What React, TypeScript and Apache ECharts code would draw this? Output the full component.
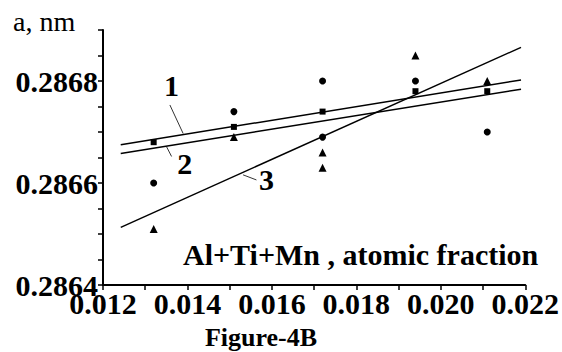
import React, { useEffect, useRef } from "react";
import * as echarts from "echarts";

// Measured points (x: Al+Ti+Mn atomic fraction, y: a, nm)
const circleData: number[][] = [
  [0.0132, 0.2866], [0.0151, 0.28674], [0.0172, 0.2868], [0.0172, 0.28669],
  [0.0194, 0.2868], [0.0211, 0.2867],
];
const squareData: number[][] = [
  [0.0132, 0.28668], [0.0151, 0.28671], [0.0172, 0.28674], [0.0194, 0.28678], [0.0211, 0.28678],
];
const triangleData: number[][] = [
  [0.0132, 0.28651], [0.0151, 0.28669], [0.0172, 0.28666], [0.0172, 0.28663],
  [0.0194, 0.28685], [0.0211, 0.2868],
];
// Fitted lines (end points)
const fit1: number[][] = [[0.01242, 0.286675], [0.0219, 0.286802]];
const fit2: number[][] = [[0.01242, 0.286658], [0.0219, 0.286784]];
const fit3: number[][] = [[0.01242, 0.286513], [0.0219, 0.286866]];
// Curve labels and their leader lines
const curveLabels = ["1", "2", "3"];
const curveLabelPos: number[][] = [[0.01362, 0.286792], [0.013939, 0.286639], [0.01587, 0.286606]];
const leader1: number[][] = [[0.013584, 0.286753], [0.013898, 0.286697]];
const leader2: number[][] = [[0.013506, 0.286671], [0.013624, 0.286652]];
const leader3: number[][] = [[0.015317, 0.286616], [0.015634, 0.286606]];

const X_MIN = 0.012, X_MAX = 0.022, X_STEP = 0.001;
const Y_MIN = 0.2864, Y_MAX = 0.2869, Y_STEP = 0.00005;

const FONT = "Liberation Serif";

export default function App() {
  const ref = useRef<HTMLDivElement>(null);
  useEffect(() => {
    if (!ref.current) return;
    const chart = echarts.init(ref.current, undefined, { renderer: "svg" });
    const lineSeries = (data: number[][], w: number) => ({
      type: "line",
      data,
      symbol: "none",
      silent: true,
      lineStyle: { color: "#000", width: w },
    });
    chart.setOption({
      animation: false,
      grid: { left: 103, right: 36, top: 30, bottom: 67, containLabel: false },
      xAxis: {
        type: "value",
        min: X_MIN,
        max: X_MAX,
        interval: X_STEP,
        axisLine: { lineStyle: { color: "#000", width: 2 } },
        axisTick: { length: 5, lineStyle: { color: "#000", width: 1.5 } },
        splitLine: { show: false },
        axisLabel: {
          interval: 0,
          margin: 3,
          color: "#000",
          fontFamily: FONT,
          fontWeight: "bold",
          fontSize: 30,
          formatter: (v: number) => (Math.round(v * 1000) % 2 === 0 ? v.toFixed(3) : ""),
        },
      },
      yAxis: {
        type: "value",
        min: Y_MIN,
        max: Y_MAX,
        interval: Y_STEP,
        axisLine: { lineStyle: { color: "#000", width: 2 } },
        axisTick: { length: 5, lineStyle: { color: "#000", width: 1.5 } },
        splitLine: { show: false },
        axisLabel: {
          interval: 0,
          margin: 5,
          color: "#000",
          fontFamily: FONT,
          fontWeight: "bold",
          fontSize: 30,
          formatter: (v: number) => (Math.round(v * 20000) % 4 === 0 ? v.toFixed(4) : ""),
        },
      },
      graphic: [
        {
          type: "text",
          x: 13,
          y: 21,
          style: {
            text: "a, nm",
            fill: "#000",
            fontFamily: FONT,
            fontSize: 28,
            fontWeight: "normal",
            verticalAlign: "middle",
          },
        },
        {
          type: "text",
          x: 183,
          y: 254,
          style: {
            text: "Al+Ti+Mn , atomic fraction",
            fill: "#000",
            fontFamily: FONT,
            fontSize: 30,
            fontWeight: "bold",
            verticalAlign: "middle",
          },
        },
        {
          type: "text",
          x: 261,
          y: 337,
          style: {
            text: "Figure-4B",
            fill: "#000",
            fontFamily: FONT,
            fontSize: 26,
            fontWeight: "bold",
            align: "center",
            verticalAlign: "middle",
          },
        },
      ],
      series: [
        lineSeries(fit1, 1.5),
        lineSeries(fit2, 1.5),
        lineSeries(fit3, 1.5),
        lineSeries(leader1, 0.8),
        lineSeries(leader2, 0.8),
        lineSeries(leader3, 0.8),
        {
          type: "scatter",
          data: circleData,
          symbol: "circle",
          symbolSize: 7,
          itemStyle: { color: "#000", opacity: 1 },
        },
        {
          type: "scatter",
          data: squareData,
          symbol: "rect",
          symbolSize: 6,
          itemStyle: { color: "#000", opacity: 1 },
        },
        {
          type: "scatter",
          data: triangleData,
          symbol: "triangle",
          symbolSize: 8,
          itemStyle: { color: "#000", opacity: 1 },
        },
        {
          type: "scatter",
          symbolSize: 0,
          silent: true,
          itemStyle: { opacity: 1 },
          data: curveLabels.map((t, i) => ({ name: t, value: curveLabelPos[i] })),
          label: {
            show: true,
            position: "inside",
            formatter: (p: any) => p.name,
            color: "#000",
            fontFamily: FONT,
            fontWeight: "bold",
            fontSize: 30,
          },
        },
      ],
    });
    return () => chart.dispose();
  }, []);
  return (
    <div
      ref={ref}
      style={{ position: "absolute", left: 0, top: 0, width: 562, height: 352, background: "#fff" }}
    />
  );
}
